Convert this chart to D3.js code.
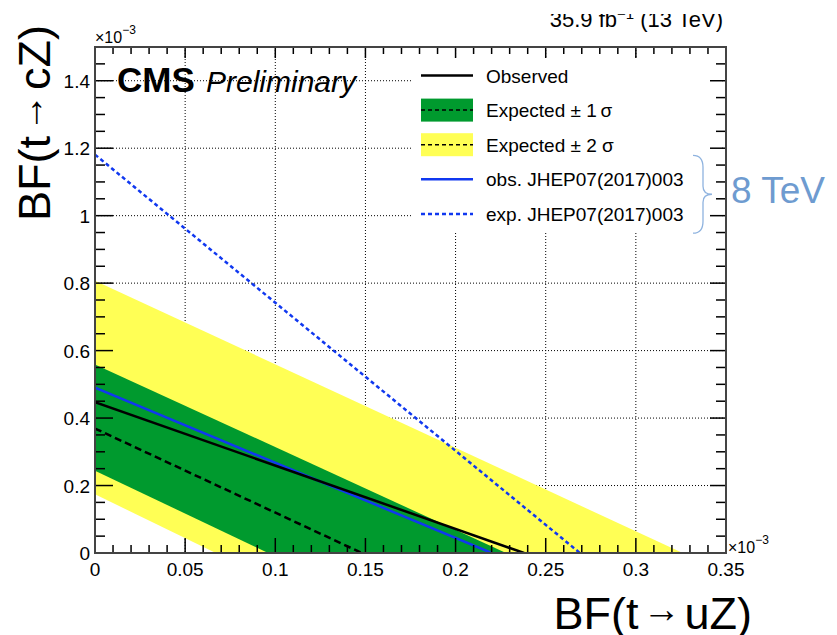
<!DOCTYPE html>
<html>
<head>
<meta charset="utf-8">
<script src="https://cdn.jsdelivr.net/npm/d3@7"></script>
<style>
  body { margin: 0; background: #fff; }
  text { font-family: "Liberation Sans", Arial, sans-serif; }
</style>
</head>
<body>
<script>

// axis ticks (values in units of 10^-3)
var xMajor = [0, 0.05, 0.1, 0.15, 0.2, 0.25, 0.3, 0.35];
var xLabels = ["0", "0.05", "0.1", "0.15", "0.2", "0.25", "0.3", "0.35"];
var yMajor = [0, 0.2, 0.4, 0.6, 0.8, 1.0, 1.2, 1.4];
var yLabels = ["0", "0.2", "0.4", "0.6", "0.8", "1", "1.2", "1.4"];

// limit contours [BF(t->uZ), BF(t->cZ)], x10^-3
var observed = [[0, 0.447], [0.238, 0]];
var expected = [[0, 0.369], [0.148, 0]];
var obs8TeV  = [[0, 0.490], [0.220, 0]];
var exp8TeV  = [[0, 1.181], [0.269, 0]];
var band1Up  = [[0, 0.559], [0.228, 0]];
var band1Dn  = [[0, 0.244], [0.096, 0]];
var band2Up  = [[0, 0.807], [0.326, 0]];
var band2Dn  = [[0, 0.174], [0.067, 0]];

// legend entries
var legendNames = ["Observed", "Expected \u00b1 1\u2009\u03c3", "Expected \u00b1 2 \u03c3",
                   "obs. JHEP07(2017)003", "exp. JHEP07(2017)003"];

var W = 837, H = 635;
var m = {l: 95, t: 47, r: 111, b: 82};
var pw = W - m.l - m.r, ph = H - m.t - m.b;

var green = "#009a2e", yellow = "#ffff55", blue = "#1038f0";

var x = d3.scaleLinear().domain([0, 0.35]).range([0, pw]);
var y = d3.scaleLinear().domain([0, 1.5]).range([ph, 0]);

var svg = d3.select('body')
  .append('svg')
    .attr('width', W)
    .attr('height', H);

svg.append('defs').append('clipPath').attr('id', 'plotclip')
  .append('rect').attr('width', pw).attr('height', ph);
svg.select('defs').append('clipPath').attr('id', 'topclip')
  .append('rect').attr('x', 0).attr('y', 14).attr('width', W).attr('height', 40);

var g = svg.append('g').attr('transform', 'translate(' + m.l + ',' + m.t + ')');

// grid
var grid = g.append('g').attr('stroke', '#000').attr('stroke-width', 1)
  .attr('stroke-dasharray', '1,2');
grid.selectAll('.gx').data(xMajor.slice(1, -1)).enter().append('line')
  .attr('x1', function(d) { return x(d); }).attr('x2', function(d) { return x(d); })
  .attr('y1', 0).attr('y2', ph);
grid.selectAll('.gy').data(yMajor.slice(1)).enter().append('line')
  .attr('y1', function(d) { return y(d); }).attr('y2', function(d) { return y(d); })
  .attr('x1', 0).attr('x2', pw);

// bands and lines
var plot = g.append('g').attr('clip-path', 'url(#plotclip)');
var line = d3.line().x(function(d) { return x(d[0]); }).y(function(d) { return y(d[1]); });

function band(up, dn) {
  return up.concat(dn.slice().reverse());
}
plot.append('path').attr('d', line(band(band2Up, band2Dn)) + 'Z').attr('fill', yellow);
plot.append('path').attr('d', line(band(band1Up, band1Dn)) + 'Z').attr('fill', green);

plot.append('path').attr('d', line(expected)).attr('fill', 'none')
  .attr('stroke', '#000').attr('stroke-width', 2.5).attr('stroke-dasharray', '7,4');
plot.append('path').attr('d', line(exp8TeV)).attr('fill', 'none')
  .attr('stroke', blue).attr('stroke-width', 2.5).attr('stroke-dasharray', '4,3');
plot.append('path').attr('d', line(obs8TeV)).attr('fill', 'none')
  .attr('stroke', blue).attr('stroke-width', 2.5);
plot.append('path').attr('d', line(observed)).attr('fill', 'none')
  .attr('stroke', '#000').attr('stroke-width', 2.5);

// legend
var lg = g.append('g');
lg.append('rect').attr('x', 318).attr('y', 10).attr('width', 307).attr('height', 175)
  .attr('fill', '#fff');
var rowY = function(i) { return 28.5 + i * 34.6; };
var rows = lg.selectAll('.row').data(legendNames).enter().append('g')
  .attr('transform', function(d, i) { return 'translate(326,' + rowY(i) + ')'; });
rows.each(function(d, i) {
  var r = d3.select(this);
  if (i == 1 || i == 2) {
    r.append('rect').attr('x', 0).attr('y', -11.5).attr('width', 52).attr('height', 23)
      .attr('fill', i == 1 ? green : yellow);
  }
  var st = (i == 3 || i == 4) ? blue : '#000';
  var dash = (i == 1 || i == 2) ? '4,3' : (i == 4 ? '4,3' : null);
  r.append('line').attr('x1', 0).attr('x2', 52).attr('y1', 0).attr('y2', 0)
    .attr('stroke', st).attr('stroke-width', (i == 1 || i == 2) ? 1.5 : 2.5)
    .attr('stroke-dasharray', dash);
  r.append('text').attr('x', 65).attr('y', 7).attr('font-size', 19).text(d);
});

// axes: ticks all inward, ROOT style
function ticks(vals, minorStep, hi, len, lenMinor) {
  var out = [];
  for (var v = 0; v <= hi + 1e-9; v += minorStep) {
    var major = vals.some(function(t) { return Math.abs(t - v) < 1e-9; });
    out.push({v: v, len: major ? len : lenMinor});
  }
  return out;
}
var tk = g.append('g').attr('stroke', '#000').attr('stroke-width', 1.5);
tk.selectAll('.tb').data(ticks(xMajor, 0.01, 0.35, 15, 8)).enter().append('line')
  .attr('x1', function(d) { return x(d.v); }).attr('x2', function(d) { return x(d.v); })
  .attr('y1', ph).attr('y2', function(d) { return ph - d.len; });
tk.selectAll('.tt').data(ticks(xMajor, 0.01, 0.35, 11, 7)).enter().append('line')
  .attr('x1', function(d) { return x(d.v); }).attr('x2', function(d) { return x(d.v); })
  .attr('y1', 0).attr('y2', function(d) { return d.len; });
tk.selectAll('.tl').data(ticks(yMajor, 0.05, 1.5, 18, 10)).enter().append('line')
  .attr('y1', function(d) { return y(d.v); }).attr('y2', function(d) { return y(d.v); })
  .attr('x1', 0).attr('x2', function(d) { return d.len; });
tk.selectAll('.tr').data(ticks(yMajor, 0.05, 1.5, 16, 10)).enter().append('line')
  .attr('y1', function(d) { return y(d.v); }).attr('y2', function(d) { return y(d.v); })
  .attr('x1', pw).attr('x2', function(d) { return pw - d.len; });

g.append('rect').attr('width', pw).attr('height', ph).attr('fill', 'none')
  .attr('stroke', '#444').attr('stroke-width', 2);

// tick labels
g.selectAll('.xl').data(xMajor).enter().append('text')
  .attr('x', function(d) { return x(d); }).attr('y', ph + 23)
  .attr('text-anchor', 'middle').attr('font-size', 19)
  .text(function(d, i) { return xLabels[i]; });
g.selectAll('.yl').data(yMajor).enter().append('text')
  .attr('x', -5).attr('y', function(d) { return y(d) + 7; })
  .attr('text-anchor', 'end').attr('font-size', 19)
  .text(function(d, i) { return yLabels[i]; });

// exponent labels
function exponent(px, py) {
  var t = svg.append('text').attr('x', px).attr('y', py).attr('font-size', 16);
  t.append('tspan').text('\u00d710');
  t.append('tspan').attr('dy', -9).attr('font-size', 12).text('\u22123');
}
exponent(m.l, m.t - 4);
exponent(m.l + pw + 2, m.t + ph);

// axis titles, arrow raised to mid height
function title(sel, a, b) {
  sel.append('tspan').text(a);
  sel.append('tspan').attr('dx', 4).attr('dy', -7).attr('font-size', 38).text('\u2192');
  sel.append('tspan').attr('dx', 4).attr('dy', 7).text(b);
}
var xt = svg.append('text').attr('x', 752).attr('y', 629).attr('text-anchor', 'end')
  .attr('font-size', 45);
title(xt, 'BF(t', 'uZ)');

var yt = svg.append('text').attr('transform', 'translate(50,25) rotate(-90)')
  .attr('text-anchor', 'end').attr('font-size', 45);
title(yt, 'BF(t', 'cZ)');

// CMS label
svg.append('text').attr('x', 117).attr('y', 92).attr('font-size', 35)
  .attr('font-weight', 'bold').text('CMS');
svg.append('text').attr('x', 206).attr('y', 92).attr('font-size', 30)
  .attr('font-style', 'italic').text('Preliminary');

// lumi label, top of it cut off as in the original picture
var lumi = svg.append('text').attr('x', 723).attr('y', 27).attr('text-anchor', 'end')
  .attr('font-size', 22).attr('clip-path', 'url(#topclip)');
lumi.append('tspan').text('35.9 fb');
lumi.append('tspan').attr('dy', -8).attr('font-size', 15).text('\u22121');
lumi.append('tspan').attr('dy', 8).text(' (13 TeV)');

// 8 TeV brace
var bTop = m.t + y(1.179), bBot = m.t + y(0.948), bMid = (bTop + bBot) / 2;
var bx0 = 693, bx1 = 703, bx2 = 712;
svg.append('path')
  .attr('d', 'M' + bx0 + ',' + bTop + ' Q' + bx1 + ',' + bTop + ' ' + bx1 + ',' + (bTop + 12) +
             ' L' + bx1 + ',' + (bMid - 8) + ' Q' + bx1 + ',' + bMid + ' ' + bx2 + ',' + bMid +
             ' Q' + bx1 + ',' + bMid + ' ' + bx1 + ',' + (bMid + 8) +
             ' L' + bx1 + ',' + (bBot - 12) + ' Q' + bx1 + ',' + bBot + ' ' + bx0 + ',' + bBot)
  .attr('fill', 'none').attr('stroke', '#8fb3df').attr('stroke-width', 1.3);
svg.append('text').attr('x', 731).attr('y', 203).attr('font-size', 37)
  .attr('fill', '#6e9bd0').text('8 TeV');

</script>
</body>
</html>
